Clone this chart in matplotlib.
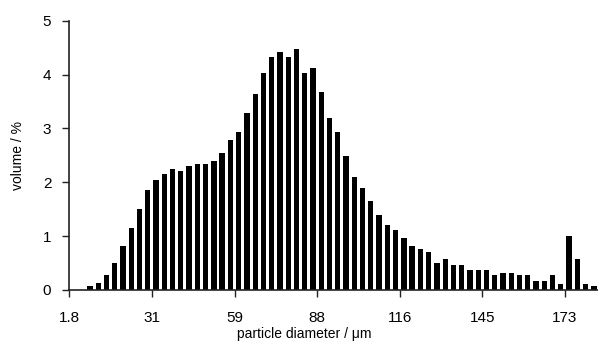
import numpy as np
import matplotlib
matplotlib.use("Agg")
import matplotlib.pyplot as plt

# volume fraction per size class (64 classes)
volume = [0, 0, 0.07, 0.13, 0.27, 0.51, 0.81, 1.16, 1.50, 1.86,
          2.05, 2.15, 2.25, 2.20, 2.31, 2.34, 2.34, 2.39, 2.54, 2.79,
          2.93, 3.28, 3.63, 4.03, 4.32, 4.42, 4.32, 4.47, 4.03, 4.12,
          3.68, 3.19, 2.93, 2.49, 2.09, 1.90, 1.65, 1.40, 1.21, 1.11,
          0.96, 0.81, 0.77, 0.71, 0.51, 0.57, 0.47, 0.47, 0.37, 0.37,
          0.37, 0.27, 0.32, 0.32, 0.27, 0.27, 0.17, 0.17, 0.27, 0.12,
          1.01, 0.57, 0.12, 0.07]
size_labels = ["1.8", "31", "59", "88", "116", "145", "173"]
label_every = 10
yticks = [0, 1, 2, 3, 4, 5]

plt.rcParams['font.family'] = ['Liberation Sans', 'DejaVu Sans']

fig = plt.figure(figsize=(5.98, 3.44), dpi=100)
ax = fig.add_axes([0.1159, 0.157, 0.8841, 0.783])

n = len(volume)
pos = np.arange(n) + 0.5
ax.bar(pos, volume, width=0.64, color='black', linewidth=0)

ax.set_xlim(0, n)
ax.set_ylim(0, 5)
ax.set_xticks(np.arange(len(size_labels)) * label_every)
ax.set_xticklabels(size_labels)
ax.set_yticks(yticks)

for s in ['top', 'right']:
    ax.spines[s].set_visible(False)
for s in ['left', 'bottom']:
    ax.spines[s].set_linewidth(1.2)
    ax.spines[s].set_color('#222222')

ax.tick_params(axis='both', direction='out', length=5, width=1,
               color='#222222', labelsize=11)
ax.tick_params(axis='y', pad=8)
ax.tick_params(axis='x', pad=10)

fig.text(304 / 598, 1 - 334 / 344, "particle diameter / μm", fontsize=10,
         ha='center', va='center')
fig.text(18 / 598, 1 - 155 / 344, "volume / %", fontsize=10,
         ha='center', va='center', rotation=90)

fig.savefig("out.png", dpi=100)
